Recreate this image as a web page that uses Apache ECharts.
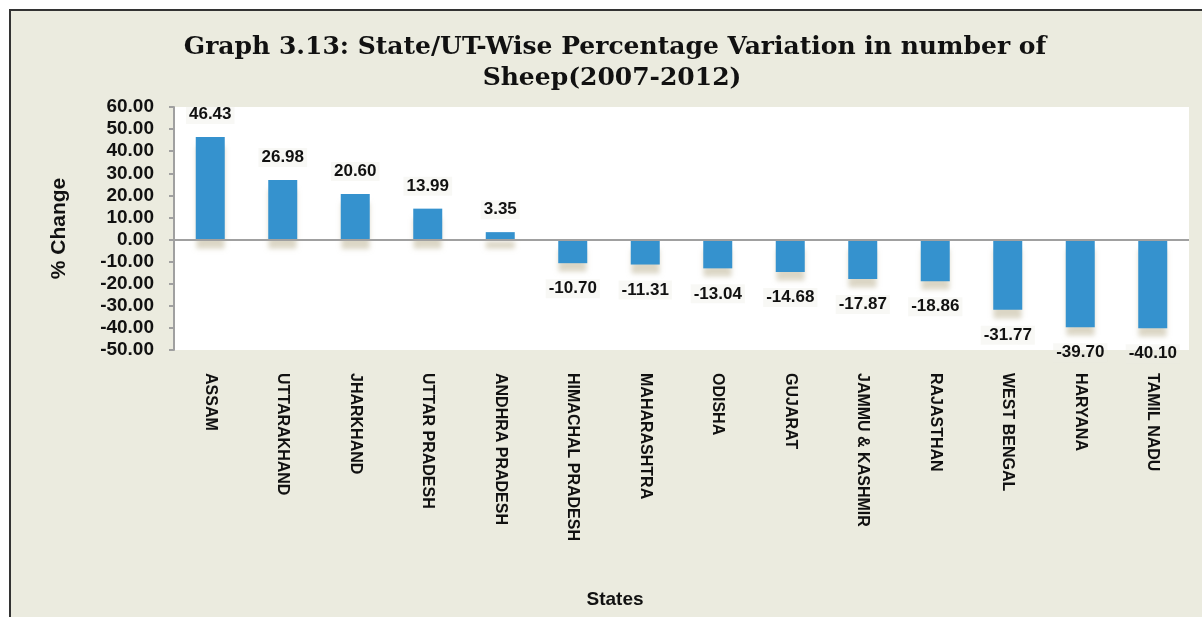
<!DOCTYPE html>
<html>
<head>
<meta charset="utf-8">
<script src="https://cdn.jsdelivr.net/npm/echarts@6/dist/echarts.min.js"></script>
<style>
html,body{margin:0;padding:0;background:#ffffff;}
#chart{width:1202px;height:617px;}
</style>
</head>
<body>
<div id="chart"></div>
<script>
const states = ["ASSAM","UTTARAKHAND","JHARKHAND","UTTAR PRADESH","ANDHRA PRADESH","HIMACHAL PRADESH","MAHARASHTRA","ODISHA","GUJARAT","JAMMU & KASHMIR","RAJASTHAN","WEST BENGAL","HARYANA","TAMIL NADU"];
const pctChange = [46.43, 26.98, 20.60, 13.99, 3.35, -10.70, -11.31, -13.04, -14.68, -17.87, -18.86, -31.77, -39.70, -40.10];
const titleLines = ["Graph 3.13: State/UT-Wise Percentage Variation in number of", "Sheep(2007-2012)"];
const yAxisTitle = "% Change";
const xAxisTitle = "States";
const yMin = -50, yMax = 60, yStep = 10;

const chart = echarts.init(document.getElementById('chart'));
const sansBold = {fontFamily: 'Liberation Sans, Arial, sans-serif', fontWeight: 'bold', color: '#111'};

chart.setOption({
  backgroundColor: '#ffffff',
  animation: false,
  graphic: [
    {type: 'rect', z: -10, shape: {x: 10, y: 10, width: 1202, height: 617},
     style: {fill: '#ebebdf', stroke: '#333333', lineWidth: 2}},
    {type: 'text', x: 615, y: 47, z: 10,
     style: {text: titleLines[0], align: 'center', verticalAlign: 'middle',
             font: 'bold 25px "DejaVu Serif", serif', fill: '#111'}},
    {type: 'text', x: 612, y: 78, z: 10,
     style: {text: titleLines[1], align: 'center', verticalAlign: 'middle',
             font: 'bold 25px "DejaVu Serif", serif', fill: '#111'}},
    {type: 'text', x: 615, y: 600, z: 10,
     style: {text: xAxisTitle, align: 'center', verticalAlign: 'middle',
             font: 'bold 19px "Liberation Sans", sans-serif', fill: '#111'}}
  ],
  grid: {left: 174, right: 13, top: 107, bottom: 267, show: true,
         backgroundColor: '#ffffff', borderWidth: 0, containLabel: false},
  xAxis: {
    type: 'category', data: states,
    axisLine: {show: false, onZero: false},
    axisTick: {show: false},
    axisLabel: Object.assign({rotate: -90, fontSize: 16, margin: 23, interval: 0}, sansBold)
  },
  yAxis: {
    type: 'value', min: yMin, max: yMax, interval: yStep,
    name: yAxisTitle, nameLocation: 'middle', nameGap: 104,
    nameTextStyle: Object.assign({fontSize: 21}, sansBold),
    axisLine: {show: true, lineStyle: {color: '#a0a0a0', width: 2}},
    axisTick: {show: true, length: 5, lineStyle: {color: '#a0a0a0', width: 2}},
    splitLine: {show: false},
    axisLabel: Object.assign({fontSize: 19, margin: 20, formatter: v => v.toFixed(2)}, sansBold)
  },
  series: [{
    type: 'bar',
    data: pctChange.map(v => v < 0 ? {value: v, label: {position: 'bottom', distance: 16}} : v),
    barWidth: '40%',
    itemStyle: {color: '#3592ce', shadowColor: 'rgba(190,180,150,0.55)', shadowBlur: 5, shadowOffsetY: 9},
    label: {
      show: true, position: 'top', distance: 13,
      formatter: p => p.value.toFixed(2),
      fontSize: 17, fontFamily: 'Liberation Sans, Arial, sans-serif', fontWeight: 'bold', color: '#111',
      backgroundColor: 'rgba(235,235,225,0.35)', padding: [1, 3]
    },
    markLine: {
      silent: true, symbol: 'none', label: {show: false},
      lineStyle: {color: '#a0a0a0', width: 2, type: 'solid'},
      data: [{yAxis: 0}]
    }
  }]
});
</script>
</body>
</html>
